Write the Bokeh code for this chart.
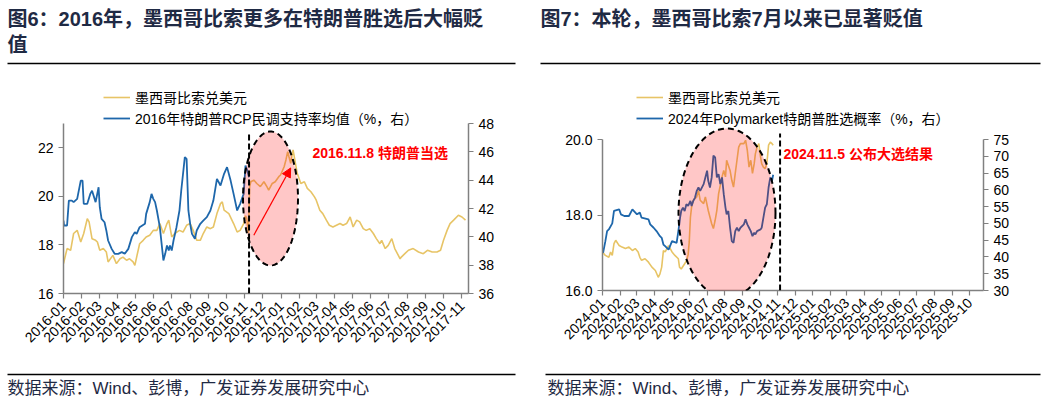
import math
import pandas as pd
from bokeh.plotting import figure
from bokeh.models import (Range1d, LinearAxis, FixedTicker, DatetimeTickFormatter, PrintfTickFormatter,
                          Label, Legend, LegendItem, Arrow, NormalHead, PolyAnnotation)
from bokeh.layouts import row, column
from bokeh.embed import file_html
from bokeh.resources import INLINE

# ---------------- data: figure 6 (2016) ----------------
mxn16_dates = ["2016-01-01", "2016-01-07", "2016-01-13", "2016-01-18", "2016-01-24", "2016-01-30", "2016-02-04",
               "2016-02-10", "2016-02-13", "2016-02-18", "2016-02-24", "2016-02-27", "2016-03-02", "2016-03-08",
               "2016-03-13", "2016-03-16", "2016-03-24", "2016-03-30", "2016-04-05", "2016-04-10", "2016-04-16",
               "2016-04-21", "2016-04-27", "2016-04-30", "2016-05-03", "2016-05-08", "2016-05-14", "2016-05-19",
               "2016-05-25", "2016-05-31", "2016-06-06", "2016-06-11", "2016-06-17", "2016-06-23", "2016-06-26",
               "2016-06-28", "2016-07-01", "2016-07-06", "2016-07-14", "2016-07-20", "2016-07-26", "2016-08-01",
               "2016-08-06", "2016-08-12", "2016-08-18", "2016-08-23", "2016-08-29", "2016-09-04", "2016-09-09",
               "2016-09-15", "2016-09-21", "2016-09-24", "2016-09-27", "2016-10-05", "2016-10-13", "2016-10-19",
               "2016-10-24", "2016-10-30", "2016-11-02", "2016-11-04", "2016-11-07", "2016-11-09", "2016-11-11",
               "2016-11-16", "2016-11-21", "2016-11-27", "2016-12-03", "2016-12-08", "2016-12-11", "2016-12-17",
               "2016-12-22", "2016-12-28", "2016-12-31", "2017-01-06", "2017-01-09", "2017-01-12", "2017-01-14",
               "2017-01-17", "2017-01-21", "2017-01-25", "2017-01-28", "2017-02-03", "2017-02-09", "2017-02-14",
               "2017-02-20", "2017-02-26", "2017-03-01", "2017-03-07", "2017-03-12", "2017-03-18", "2017-03-23",
               "2017-03-29", "2017-04-04", "2017-04-10", "2017-04-15", "2017-04-21", "2017-04-27", "2017-05-02",
               "2017-05-08", "2017-05-13", "2017-05-19", "2017-05-24", "2017-05-30", "2017-06-05", "2017-06-10",
               "2017-06-16", "2017-06-19", "2017-06-25", "2017-06-30", "2017-07-06", "2017-07-11", "2017-07-17",
               "2017-07-20", "2017-07-22", "2017-07-28", "2017-08-03", "2017-08-11", "2017-08-20", "2017-08-28",
               "2017-09-04", "2017-09-12", "2017-09-20", "2017-09-26", "2017-10-01", "2017-10-07", "2017-10-12",
               "2017-10-18", "2017-10-26", "2017-11-01", "2017-11-07"]
mxn16_vals = [17.23, 17.85, 17.78, 18.47, 18.60, 18.12, 18.47,
              19.08, 18.95, 18.25, 18.19, 18.12, 17.78, 17.85,
              17.71, 17.30, 17.57, 17.23, 17.43, 17.50, 17.37,
              17.43, 17.30, 17.16, 17.50, 18.05, 18.19, 18.33,
              18.40, 18.60, 18.60, 18.88, 18.47, 18.88, 19.02,
              18.74, 18.33, 18.47, 18.60, 18.53, 18.81, 18.88,
              18.60, 18.19, 18.19, 18.47, 18.74, 18.67, 18.74,
              19.29, 19.70, 19.77, 19.43, 19.29, 18.88, 18.53,
              18.60, 18.88, 19.20, 19.10, 18.50, 20.40, 20.60,
              20.67, 20.53, 20.40, 20.60, 20.40, 20.26, 20.53,
              20.60, 20.81, 20.88, 21.22, 21.50, 21.84, 21.64,
              21.36, 21.91, 21.36, 20.95, 20.53, 20.60, 20.33,
              20.19, 19.98, 19.84, 19.43, 19.29, 19.02, 18.81,
              18.74, 18.81, 18.88, 18.81, 18.88, 19.15, 18.74,
              19.02, 18.95, 18.67, 18.60, 18.67, 18.47, 18.26,
              18.05, 18.19, 17.85, 17.98, 18.26, 17.85, 17.57,
              17.43, 17.50, 17.64, 17.78, 17.85, 17.71, 17.64,
              17.78, 17.71, 17.71, 17.78, 18.19, 18.60, 18.88,
              19.02, 19.22, 19.15, 19.02]

rcp16_dates = ["2016-01-01", "2016-01-02", "2016-01-07", "2016-01-10", "2016-01-15", "2016-01-18", "2016-01-24",
               "2016-01-30", "2016-02-02", "2016-02-04", "2016-02-10", "2016-02-15", "2016-02-18", "2016-02-24",
               "2016-02-29", "2016-03-02", "2016-03-05", "2016-03-10", "2016-03-13", "2016-03-16", "2016-03-22",
               "2016-03-27", "2016-04-02", "2016-04-08", "2016-04-13", "2016-04-19", "2016-04-25", "2016-04-30",
               "2016-05-03", "2016-05-08", "2016-05-17", "2016-05-19", "2016-05-25", "2016-05-28", "2016-05-31",
               "2016-06-03", "2016-06-06", "2016-06-11", "2016-06-14", "2016-06-17", "2016-06-20", "2016-06-23",
               "2016-06-26", "2016-06-28", "2016-07-01", "2016-07-04", "2016-07-09", "2016-07-14", "2016-07-17",
               "2016-07-23", "2016-07-26", "2016-07-29", "2016-08-01", "2016-08-04", "2016-08-09", "2016-08-12",
               "2016-08-18", "2016-08-23", "2016-08-29", "2016-09-04", "2016-09-09", "2016-09-15", "2016-09-21",
               "2016-09-27", "2016-10-02", "2016-10-08", "2016-10-13", "2016-10-19", "2016-10-24", "2016-10-30",
               "2016-11-02", "2016-11-05", "2016-11-08"]
rcp16_vals = [41.15, 40.80, 40.80, 42.56, 42.56, 42.45, 42.68,
              43.97, 43.97, 42.33, 42.33, 43.03, 43.25, 42.45,
              43.50, 42.09, 41.27, 41.03, 40.45, 39.74, 39.15,
              38.80, 38.80, 38.92, 38.80, 39.15, 39.98, 40.33,
              40.21, 40.68, 40.92, 41.62, 42.45, 43.03, 42.68,
              42.45, 41.86, 40.68, 39.50, 38.33, 38.80, 39.39,
              39.03, 39.39, 39.03, 39.74, 40.68, 41.86, 43.27,
              45.62, 45.50, 41.86, 40.92, 40.21, 39.86, 40.45,
              40.92, 41.15, 41.39, 41.86, 42.56, 44.09, 43.62,
              44.45, 44.92, 43.97, 43.03, 41.86, 42.33, 43.03,
              45.03, 44.68, 44.20]

ticks16 = ["2016-01", "2016-02", "2016-03", "2016-04", "2016-05", "2016-06", "2016-07", "2016-08",
           "2016-09", "2016-10", "2016-11", "2016-12", "2017-01", "2017-02", "2017-03", "2017-04",
           "2017-05", "2017-06", "2017-07", "2017-08", "2017-09", "2017-10", "2017-11"]

# ---------------- data: figure 7 (2024) ----------------
mxn24_dates = ["2024-01-01", "2024-01-06", "2024-01-12", "2024-01-15", "2024-01-18", "2024-01-21", "2024-01-24",
               "2024-01-30", "2024-02-04", "2024-02-10", "2024-02-16", "2024-02-22", "2024-02-27", "2024-03-03",
               "2024-03-06", "2024-03-09", "2024-03-15", "2024-03-21", "2024-03-27", "2024-04-02", "2024-04-07",
               "2024-04-10", "2024-04-13", "2024-04-16", "2024-04-19", "2024-04-25", "2024-05-01", "2024-05-06",
               "2024-05-12", "2024-05-14", "2024-05-17", "2024-05-23", "2024-05-26", "2024-05-29", "2024-05-31",
               "2024-06-02", "2024-06-04", "2024-06-07", "2024-06-13", "2024-06-16", "2024-06-19", "2024-06-25",
               "2024-06-28", "2024-07-03", "2024-07-09", "2024-07-12", "2024-07-15", "2024-07-18", "2024-07-21",
               "2024-07-27", "2024-07-30", "2024-08-02", "2024-08-04", "2024-08-10", "2024-08-13", "2024-08-16",
               "2024-08-19", "2024-08-22", "2024-08-25", "2024-08-28", "2024-09-03", "2024-09-06", "2024-09-09",
               "2024-09-12", "2024-09-15", "2024-09-18", "2024-09-21", "2024-09-23", "2024-09-26", "2024-09-29",
               "2024-10-02", "2024-10-04", "2024-10-07", "2024-10-10", "2024-10-13", "2024-10-16", "2024-10-19",
               "2024-10-22", "2024-10-24"]
mxn24_vals = [17.02, 16.93, 16.88, 17.02, 16.93, 17.24, 17.33,
              17.19, 17.15, 17.11, 17.15, 17.06, 17.11, 17.02,
              16.88, 16.80, 16.84, 16.75, 16.62, 16.53, 16.35,
              16.44, 16.62, 17.06, 17.02, 17.19, 17.02, 16.93,
              16.84, 16.62, 16.57, 16.71, 16.78, 16.95, 17.30,
              17.94, 18.21, 18.39, 18.48, 18.65, 18.39, 18.30,
              18.48, 18.12, 17.77, 17.64, 17.86, 18.12, 18.56,
              19.01, 19.18, 19.01, 19.45, 19.18, 18.92, 18.74,
              19.10, 19.45, 19.80, 19.89, 19.89, 19.98, 19.71,
              19.27, 19.45, 19.10, 19.36, 19.62, 19.80, 19.89,
              19.54, 19.36, 19.27, 19.23, 19.36, 19.85, 19.93,
              19.89, 19.85]

poly24_dates = ["2024-01-02", "2024-01-06", "2024-01-09", "2024-01-12", "2024-01-18", "2024-01-21", "2024-01-30",
                "2024-02-02", "2024-02-08", "2024-02-16", "2024-02-22", "2024-03-01", "2024-03-06", "2024-03-09",
                "2024-03-21", "2024-03-24", "2024-03-30", "2024-04-04", "2024-04-10", "2024-04-13", "2024-04-16",
                "2024-04-19", "2024-04-25", "2024-05-01", "2024-05-09", "2024-05-12", "2024-05-14", "2024-05-15",
                "2024-05-17", "2024-05-20", "2024-05-23", "2024-05-26", "2024-05-29", "2024-06-02", "2024-06-04",
                "2024-06-07", "2024-06-10", "2024-06-13", "2024-06-16", "2024-06-19", "2024-06-25", "2024-06-28",
                "2024-07-01", "2024-07-03", "2024-07-06", "2024-07-09", "2024-07-12", "2024-07-15", "2024-07-18",
                "2024-07-21", "2024-07-24", "2024-07-27", "2024-07-30", "2024-08-02", "2024-08-04", "2024-08-07",
                "2024-08-10", "2024-08-13", "2024-08-16", "2024-08-19", "2024-08-22", "2024-08-25", "2024-08-28",
                "2024-09-03", "2024-09-06", "2024-09-09", "2024-09-12", "2024-09-15", "2024-09-18", "2024-09-21",
                "2024-09-23", "2024-09-26", "2024-10-02", "2024-10-04", "2024-10-07", "2024-10-10", "2024-10-13",
                "2024-10-16", "2024-10-19", "2024-10-22", "2024-10-24"]
poly24_vals = [41.2, 44.7, 47.7, 48.2, 50.0, 53.7, 54.2,
               52.7, 52.2, 52.2, 54.2, 52.7, 53.2, 51.7,
               51.2, 49.7, 48.7, 47.7, 46.2, 45.7, 43.7,
               43.2, 42.2, 44.7, 44.2, 47.7, 50.2, 51.7,
               53.7, 54.7, 53.7, 55.7, 55.2, 56.7, 55.2,
               56.7, 57.7, 59.7, 60.7, 59.7, 61.7, 63.7,
               65.7, 62.7, 60.7, 63.7, 70.2, 69.7, 63.7,
               64.7, 61.7, 63.7, 58.7, 54.7, 52.7, 53.7,
               48.7, 44.7, 44.2, 47.7, 48.7, 47.7, 48.7,
               49.7, 51.2, 49.7, 48.7, 47.7, 46.2, 47.2,
               46.7, 47.7, 48.2, 48.7, 51.7, 54.7, 55.7,
               60.7, 63.7, 62.7, 64.5]

ticks24 = ["2024-01", "2024-02", "2024-03", "2024-04", "2024-05", "2024-06", "2024-07", "2024-08",
           "2024-09", "2024-10", "2024-11", "2024-12", "2025-01", "2025-02", "2025-03", "2025-04",
           "2025-05", "2025-06", "2025-07", "2025-08", "2025-09", "2025-10"]

# ---------------- styling ----------------
GOLD = "#E7C466"
BLUE = "#1E67AB"
TXT = "#1F2A44"
AXC = "#808080"
FONT = "Liberation Sans, Noto Sans CJK SC"
SOURCE = "数据来源：Wind、彭博，广发证券发展研究中心"
W = 525
HEAD_H = 70    # page y 0..70
CHART_H = 290  # page y 70..360
FOOT_H = 51    # page y 360..411
FRAME_TOP = 70


def ms(d):
    return pd.Timestamp(d).value // 10**6


def style_axis(ax):
    ax.axis_line_color = AXC
    ax.axis_line_width = 1.5
    ax.major_tick_line_color = AXC
    ax.major_tick_line_width = 1.2
    ax.major_tick_out = 5
    ax.major_tick_in = 0
    ax.minor_tick_line_color = None
    ax.major_label_text_font = "Liberation Sans"
    ax.major_label_text_font_size = "14px"
    ax.major_label_text_color = "black"


def blank(h):
    f = figure(width=W, height=h, x_range=Range1d(0, W), y_range=Range1d(h, 0),
               min_border=0, x_axis_location=None, y_axis_location=None,
               output_backend="svg", toolbar_location=None)
    f.xgrid.visible = False
    f.ygrid.visible = False
    f.outline_line_color = None
    return f


def header(x0, title_lines, tx, rule):
    h = blank(HEAD_H)
    for i, t in enumerate(title_lines):
        h.add_layout(Label(x=tx - x0, y=18 + 26 * i, text=t, text_color=TXT, text_font_style="bold",
                           text_font_size="20px", text_font=FONT, text_baseline="middle", text_align="left"))
    h.add_layout(Arrow(end=None, x_start=rule[0] - x0, x_end=rule[1] - x0, y_start=63, y_end=63,
                       line_color="black", line_width=1.5))
    return h


def footer(x0, tx, rule):
    f = blank(FOOT_H)
    f.add_layout(Arrow(end=None, x_start=rule[0] - x0, x_end=rule[1] - x0, y_start=374 - 360, y_end=374 - 360,
                       line_color="black", line_width=1.5))
    f.add_layout(Label(x=tx - x0, y=388 - 360, text=SOURCE, text_color=TXT, text_font_size="17px",
                       text_font=FONT, text_baseline="middle", text_align="left"))
    return f


def chart(x0, fl, fr, fb, xstart, xend, lax, rax, lticks, rticks, tick_labels,
          gold_d, gold_v, blue_d, blue_v, leg_blue, note, event_date,
          dash_top, dash_bot, ell, arrow=None, lfmt=None):
    # lax / rax: (low value, page y of low, high value, page y of high)
    lpx = (lax[1] - lax[3]) / (lax[2] - lax[0])
    rpx = (rax[1] - rax[3]) / (rax[2] - rax[0])
    ltop = lax[0] + (lax[1] - FRAME_TOP) / lpx
    rtop = rax[0] + (rax[1] - FRAME_TOP) / rpx
    lbot = lax[0] - (fb - lax[1]) / lpx
    rbot = rax[0] - (fb - rax[1]) / rpx
    p = figure(x_axis_type="datetime", frame_width=fr - fl, frame_height=fb - FRAME_TOP,
               min_border_left=fl - x0, min_border_right=W - (fr - x0),
               min_border_top=0, min_border_bottom=CHART_H - (fb - FRAME_TOP),
               x_range=Range1d(ms(xstart), ms(xend)), y_range=Range1d(lbot, ltop),
               output_backend="svg", toolbar_location=None)
    p.extra_y_ranges = {"right": Range1d(rbot, rtop)}
    p.add_layout(LinearAxis(y_range_name="right"), "right")
    p.xgrid.visible = False
    p.ygrid.visible = False
    p.outline_line_color = None

    p.yaxis[0].ticker = FixedTicker(ticks=lticks)
    p.yaxis[1].ticker = FixedTicker(ticks=rticks)
    p.yaxis[0].bounds = (lax[0], lax[2])
    p.yaxis[1].bounds = (rax[0], rax[2])
    if lfmt:
        p.yaxis[0].formatter = PrintfTickFormatter(format=lfmt)
    p.xaxis.ticker = FixedTicker(ticks=[ms(t + "-01") for t in tick_labels])
    fmt = "%Y-%m"
    p.xaxis.formatter = DatetimeTickFormatter(microseconds=fmt, milliseconds=fmt, seconds=fmt, minsec=fmt,
                                              minutes=fmt, hourmin=fmt, hours=fmt, days=fmt, months=fmt,
                                              years=fmt)
    p.xaxis.major_label_orientation = math.pi / 4
    for ax in list(p.xaxis) + list(p.yaxis):
        style_axis(ax)

    rg = p.line(pd.to_datetime(gold_d), gold_v, line_color=GOLD, line_width=1.6)
    rb = p.line(pd.to_datetime(blue_d), blue_v, line_color=BLUE, line_width=1.8, y_range_name="right")

    def sx(px):
        return px - fl

    def sy(py):
        return fb - py

    leg = Legend(items=[LegendItem(label="墨西哥比索兑美元", renderers=[rg]),
                        LegendItem(label=leg_blue, renderers=[rb])],
                 location=(sx(ell["legx"]), sy(128)), orientation="vertical",
                 padding=0, margin=0, spacing=1, glyph_width=27, glyph_height=20,
                 label_height=20, label_standoff=5, label_text_font_size="14px",
                 label_text_font=FONT, label_text_color="black",
                 background_fill_alpha=0, border_line_color=None)
    p.add_layout(leg, "center")

    cx, cy, a, b = ell["cx"], ell["cy"], ell["a"], ell["b"]
    n = 90
    exs = [sx(cx + a * math.cos(2 * math.pi * i / n)) for i in range(n)]
    eys = [sy(cy + b * math.sin(2 * math.pi * i / n)) for i in range(n)]
    p.add_layout(PolyAnnotation(xs=exs, ys=eys, xs_units="screen", ys_units="screen",
                                fill_color="#FF0000", fill_alpha=0.22, line_color="black",
                                line_alpha=1.0, line_width=2, line_dash="6 4"))

    p.add_layout(Arrow(end=None, x_start=ms(event_date), x_end=ms(event_date),
                       y_start=dash_bot, y_end=dash_top, line_color="black",
                       line_width=2, line_dash="6 3"))
    if arrow:
        p.add_layout(Arrow(end=NormalHead(size=9, fill_color="#FF0000", line_color="#FF0000"),
                           x_start=ms(arrow[0]), y_start=arrow[1], x_end=ms(arrow[2]), y_end=arrow[3],
                           line_color="#FF0000", line_width=1.2))

    p.add_layout(Label(x=sx(note[1]), y=sy(note[2]), x_units="screen", y_units="screen", text=note[0],
                       text_color="#FF0000", text_font_style="bold", text_font_size="14px",
                       text_font=FONT, text_baseline="middle", text_align="left"))
    return p


p1 = chart(0, 63, 468, 293, "2016-01-01", "2017-11-12", (16, 293, 23, 123), (36, 293, 48, 123),
           [16, 18, 20, 22], [36, 38, 40, 42, 44, 46, 48], ticks16,
           mxn16_dates, mxn16_vals, rcp16_dates, rcp16_vals,
           "2016年特朗普RCP民调支持率均值（%，右）",
           ("2016.11.8 特朗普当选", 312, 152), "2016-11-08", 22.65, 16.0,
           {"cx": 270, "cy": 198, "a": 27.5, "b": 67, "legx": 103},
           arrow=("2016-11-16", 18.4, "2017-01-17", 21.17))

p2 = chart(525, 602, 983, 290, "2024-01-01", "2025-10-25", (16, 290, 20, 139), (30, 290, 75, 139),
           [16, 18, 20], [30, 35, 40, 45, 50, 55, 60, 65, 70, 75], ticks24,
           mxn24_dates, mxn24_vals, poly24_dates, poly24_vals,
           "2024年Polymarket特朗普胜选概率（%，右）",
           ("2024.11.5 公布大选结果", 783, 153), "2024-11-05", 20.16, 16.0,
           {"cx": 726.5, "cy": 212.5, "a": 48.5, "b": 84.5, "legx": 636},
           lfmt="%.1f")

h1 = header(0, ["图6：2016年，墨西哥比索更多在特朗普胜选后大幅贬", "值"], 7, (7, 515))
h2 = header(525, ["图7：本轮，墨西哥比索7月以来已显著贬值"], 540, (540, 1040))
f1 = footer(0, 7, (7, 515))
f2 = footer(525, 547, (545, 1040))

layout = column(row(h1, h2), row(p1, p2), row(f1, f2))
open("out.html", "w").write(file_html(layout, INLINE))
